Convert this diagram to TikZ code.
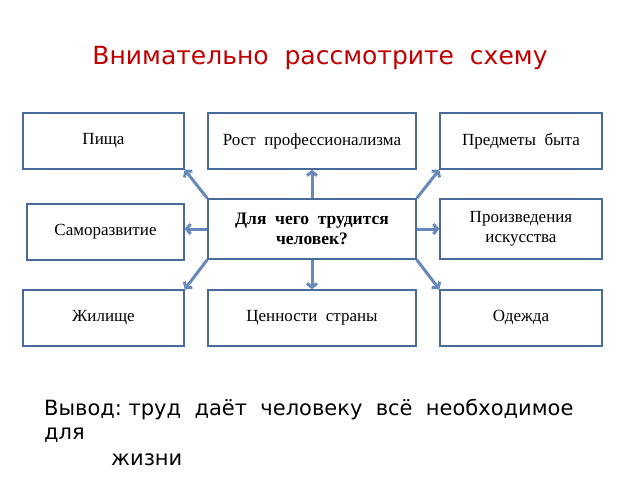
\documentclass[tikz,border=0pt]{standalone}
\usepackage{fontspec}
\setmainfont{Liberation Serif}
\newfontfamily\dejavu{DejaVu Sans}
\usetikzlibrary{arrows.meta}
\definecolor{boxline}{RGB}{74,106,154}
\definecolor{arrowline}{RGB}{104,137,186}
\definecolor{titlered}{RGB}{192,0,0}
\tikzset{
  item/.style={draw=boxline, line width=1.4pt, minimum height=56pt, inner sep=2pt,
    font=\fontsize{17}{19}\selectfont, align=center},
  link/.style={draw=arrowline, line width=3pt, -{Straight Barb[length=4pt,width=10pt]}}
}
\begin{document}
\begin{tikzpicture}[x=1pt, y=-1pt]
\useasboundingbox (0,0) rectangle (640,480);
\node[text=titlered, font=\dejavu\fontsize{25}{28}\selectfont] (title) at (320,58) {Внимательно~ рассмотрите~ схему};

% boxes
\node[item, minimum width=161pt] (pishcha) at (103.5,141) {Пища};
\node[item, minimum width=208pt] (rost) at (312,141) {Рост~ профессионализма};
\node[item, minimum width=162pt] (predmety) at (521,141) {Предметы~ быта};
\node[item, minimum width=157pt] (samo) at (105.5,232) {Саморазвитие};
\node[item, minimum width=208pt, minimum height=60pt, font=\fontsize{17.5}{20}\selectfont\bfseries] (trud) at (312,229) {Для~ чего~ трудится\\человек?};
\node[item, minimum width=162pt, minimum height=60pt, font=\fontsize{17}{20}\selectfont] (iskusstvo) at (521,229) {Произведения\\искусства};
\node[item, minimum width=161pt] (zhilishche) at (103.5,318) {Жилище};
\node[item, minimum width=208pt] (cennosti) at (312,318) {Ценности~ страны};
\node[item, minimum width=162pt] (odezhda) at (521,318) {Одежда};

% arrows
\draw[link] (trud.north west) -- (pishcha.south east);
\draw[link] (trud.west) -- (samo.east |- trud.west);
\draw[link] (trud.south west) -- (zhilishche.north east);
\draw[link] (trud.north) -- (rost.south);
\draw[link] (trud.south) -- (cennosti.north);
\draw[link] (trud.north east) -- (predmety.south west);
\draw[link] (trud.east) -- (iskusstvo.west);
\draw[link] (trud.south east) -- (odezhda.north west);

% conclusion
\node[anchor=west, inner sep=0pt, font=\dejavu\fontsize{21}{24}\selectfont] (vyvod) at (44,410) {Вывод:~труд~ даёт~ человеку~ всё~ необходимое};
\node[anchor=west, inner sep=0pt, font=\dejavu\fontsize{21}{24}\selectfont] (dlya) at (44,435) {для};
\node[anchor=west, inner sep=0pt, font=\dejavu\fontsize{21}{24}\selectfont] (zhizni) at (111,460) {жизни};
\end{tikzpicture}
\end{document}
